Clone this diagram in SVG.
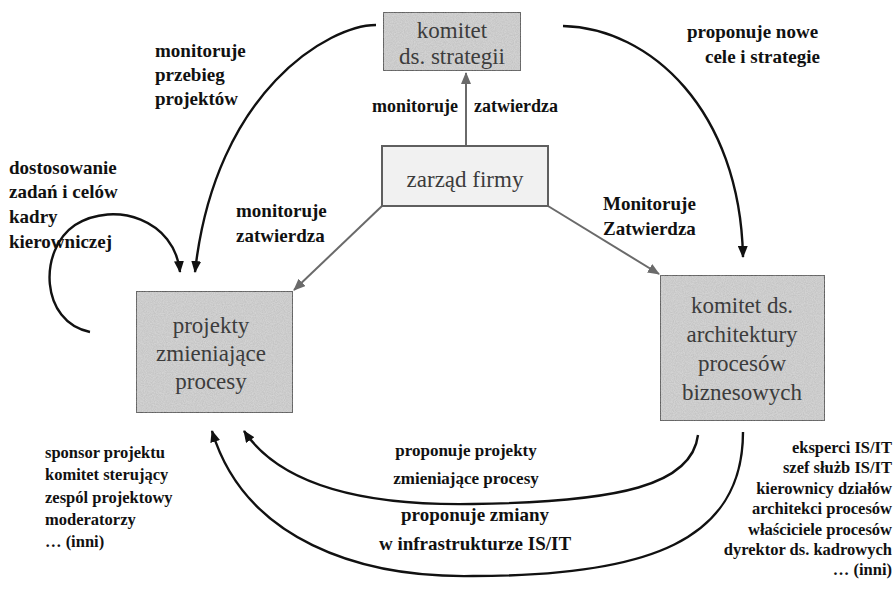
<svg xmlns="http://www.w3.org/2000/svg" width="895" height="594" viewBox="0 0 895 594" font-family="'Liberation Serif', 'Times New Roman', Times, serif">
  <style>
    .box { fill: #d3d3d3; stroke: #5f5f5f; stroke-width: 2; }
    .box-light { fill: #f1f1f1; stroke: #5f5f5f; stroke-width: 2; }
    .node-text { font-size: 23px; fill: #3c3c3c; text-anchor: middle; }
    .lbl { font-weight: bold; fill: #111; }
    .link { fill: none; stroke: #6a6a6a; stroke-width: 2; }
    .flow { fill: none; stroke: #111; stroke-width: 2.4; }
  </style>
  <defs>
    <filter id="grain" x="0" y="0" width="100%" height="100%">
      <feTurbulence type="fractalNoise" baseFrequency="0.9" numOctaves="2" seed="3" result="noise"/>
      <feColorMatrix in="noise" type="matrix" values="0 0 0 0 0.35  0 0 0 0 0.35  0 0 0 0 0.35  0 0 0 0.6 -0.15" result="dots"/>
      <feComposite in="dots" in2="SourceGraphic" operator="in" result="clipped"/>
      <feMerge>
        <feMergeNode in="SourceGraphic"/>
        <feMergeNode in="clipped"/>
      </feMerge>
    </filter>
    <marker id="head-gray" viewBox="0 0 12 10" refX="11" refY="5" markerWidth="12" markerHeight="10" markerUnits="userSpaceOnUse" orient="auto">
      <path d="M0,0 L12,5 L0,10 Z" fill="#6a6a6a"/>
    </marker>
    <marker id="head-black" viewBox="0 0 12 10" refX="11" refY="5" markerWidth="12" markerHeight="10" markerUnits="userSpaceOnUse" orient="auto">
      <path d="M0,0 L12,5 L0,10 Z" fill="#111"/>
    </marker>
  </defs>

  <rect width="895" height="594" fill="#ffffff"/>

  <!-- connectors -->
  <g id="connectors">
    <!-- straight links from the board -->
    <line class="link" x1="466" y1="146" x2="466" y2="73" marker-end="url(#head-gray)"/>
    <line class="link" x1="382" y1="206" x2="294" y2="290" marker-end="url(#head-gray)"/>
    <line class="link" x1="548" y1="206" x2="659" y2="274" marker-end="url(#head-gray)"/>

    <!-- curved flows -->
    <path class="flow" d="M376,25 C330,25 215,90 195,272" marker-end="url(#head-black)"/>
    <path class="flow" d="M563,26 C650,28 740,110 743,257" marker-end="url(#head-black)"/>
    <path class="flow" d="M90,332 C40,322 38,250 75,225 C115,200 175,220 180,272" marker-end="url(#head-black)"/>
    <path class="flow" d="M698,435 C692,485 620,502 473,504 C360,506 280,484 244,431" marker-end="url(#head-black)"/>
    <path class="flow" d="M743,432 C743,540 650,576 473,576 C360,578 245,540 212,431" marker-end="url(#head-black)"/>
  </g>

  <!-- nodes -->
  <g id="node-komitet-strategii">
    <rect class="box" x="383" y="12" width="138" height="59" filter="url(#grain)"/>
    <text class="node-text" x="452" y="38">komitet</text>
    <text class="node-text" x="452" y="64">ds. strategii</text>
  </g>

  <g id="node-zarzad">
    <rect class="box-light" x="382" y="146" width="166" height="60"/>
    <text class="node-text" x="465" y="187">zarząd firmy</text>
  </g>

  <g id="node-projekty">
    <rect class="box" x="136" y="291" width="157" height="122" filter="url(#grain)"/>
    <text class="node-text" x="211" y="333">projekty</text>
    <text class="node-text" x="211" y="361">zmieniające</text>
    <text class="node-text" x="211" y="389">procesy</text>
  </g>

  <g id="node-komitet-architektury">
    <rect class="box" x="660" y="275" width="165" height="146" filter="url(#grain)"/>
    <text class="node-text" x="742" y="313">komitet ds.</text>
    <text class="node-text" x="742" y="342">architektury</text>
    <text class="node-text" x="742" y="371">procesów</text>
    <text class="node-text" x="742" y="400">biznesowych</text>
  </g>

  <!-- connector labels -->
  <g id="labels">
    <text class="lbl" font-size="19" x="155" y="57">monitoruje</text>
    <text class="lbl" font-size="19" x="155" y="81">przebieg</text>
    <text class="lbl" font-size="19" x="155" y="105">projektów</text>

    <text class="lbl" font-size="19" x="687" y="38">proponuje nowe</text>
    <text class="lbl" font-size="19" x="705" y="63">cele i strategie</text>

    <text class="lbl" font-size="18" x="458" y="112" text-anchor="end">monitoruje</text>
    <text class="lbl" font-size="18" x="474" y="112">zatwierdza</text>

    <text class="lbl" font-size="19" x="9" y="174">dostosowanie</text>
    <text class="lbl" font-size="19" x="9" y="198">zadań i celów</text>
    <text class="lbl" font-size="19" x="9" y="223">kadry</text>
    <text class="lbl" font-size="19" x="9" y="248">kierowniczej</text>

    <text class="lbl" font-size="19" x="236" y="217">monitoruje</text>
    <text class="lbl" font-size="19" x="236" y="242">zatwierdza</text>

    <text class="lbl" font-size="19" x="603" y="210">Monitoruje</text>
    <text class="lbl" font-size="19" x="603" y="235">Zatwierdza</text>

    <text class="lbl" font-size="17" x="466" y="456" text-anchor="middle">proponuje projekty</text>
    <text class="lbl" font-size="17" x="466" y="484" text-anchor="middle">zmieniające procesy</text>

    <text class="lbl" font-size="19" x="475" y="521" text-anchor="middle">proponuje zmiany</text>
    <text class="lbl" font-size="19" x="475" y="550" text-anchor="middle">w infrastrukturze IS/IT</text>
  </g>

  <!-- role lists -->
  <g id="roles-projekty">
    <text class="lbl" font-size="16.5" x="45" y="458">sponsor projektu</text>
    <text class="lbl" font-size="16.5" x="45" y="480">komitet sterujący</text>
    <text class="lbl" font-size="16.5" x="45" y="503">zespól projektowy</text>
    <text class="lbl" font-size="16.5" x="45" y="525">moderatorzy</text>
    <text class="lbl" font-size="16.5" x="45" y="547">… (inni)</text>
  </g>

  <g id="roles-architektury">
    <text class="lbl" font-size="16.5" x="892" y="453" text-anchor="end">eksperci IS/IT</text>
    <text class="lbl" font-size="16.5" x="892" y="473" text-anchor="end">szef służb IS/IT</text>
    <text class="lbl" font-size="16.5" x="892" y="494" text-anchor="end">kierownicy działów</text>
    <text class="lbl" font-size="16.5" x="892" y="514" text-anchor="end">architekci procesów</text>
    <text class="lbl" font-size="16.5" x="892" y="535" text-anchor="end">właściciele procesów</text>
    <text class="lbl" font-size="16.5" x="892" y="555" text-anchor="end">dyrektor ds. kadrowych</text>
    <text class="lbl" font-size="16.5" x="892" y="575" text-anchor="end">… (inni)</text>
  </g>
</svg>
